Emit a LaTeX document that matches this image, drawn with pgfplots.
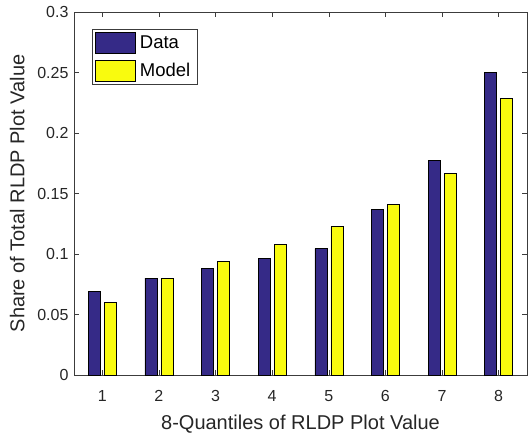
\documentclass[border=0pt]{standalone}
\usepackage{pgfplots}
\pgfplotsset{compat=1.18}
\usepackage{fontspec}
\setmainfont{Liberation Sans}
\definecolor{dblue}{RGB}{53,42,135}
\definecolor{myellow}{RGB}{249,251,14}
\definecolor{axgray}{RGB}{60,60,60}
\begin{document}
\begin{tikzpicture}
\begin{axis}[
  name=ax,
  scale only axis,
  width=453bp, height=363bp,
  xmin=0.5, xmax=8.5, ymin=0, ymax=0.3,
  ybar=4bp, bar width=12bp,
  xtick={1,2,3,4,5,6,7,8},
  ytick={0,0.05,0.1,0.15,0.2,0.25,0.3},
  tick align=inside,
  major tick length=5bp,
  axis line style={draw=axgray, line width=0.6bp},
  every tick/.style={draw=axgray, line width=0.6bp},
  tick label style={font=\fontsize{16bp}{19bp}\selectfont, text=black!85},
  /pgf/number format/assume math mode=true,
  yticklabel style={/pgf/number format/fixed, /pgf/number format/precision=2, xshift=-2bp},
  xticklabel style={yshift=-12bp},
  xlabel={8-Quantiles of RLDP Plot Value},
  ylabel={Share of Total RLDP Plot Value},
  label style={font=\fontsize{20bp}{23bp}\selectfont, text=black!85},
  xlabel style={yshift=-6bp},
  ylabel style={yshift=6bp},
  legend style={at={(axis description cs:0.04,0.953)}, anchor=north west,
    font=\fontsize{18.5bp}{21bp}\selectfont, draw=axgray, line width=0.6bp,
    inner xsep=3bp, inner ysep=3bp, row sep=6bp,
    nodes={inner xsep=4bp, inner ysep=2bp}},
  legend cell align=left,
  legend image code/.code={\draw[#1,draw=black,line width=0.5bp] (0bp,-10.5bp) rectangle (40bp,10.5bp);},
]
\addplot[fill=dblue, draw=black, line width=0.5bp] coordinates {
 (1,0.069) (2,0.080) (3,0.088) (4,0.0965) (5,0.1044) (6,0.1366) (7,0.1771) (8,0.250)};
\addplot[fill=myellow, draw=black, line width=0.5bp] coordinates {
 (1,0.060) (2,0.080) (3,0.0942) (4,0.1077) (5,0.1229) (6,0.1411) (7,0.1664) (8,0.2287)};
\legend{Data, Model}
\end{axis}
\pgfresetboundingbox
\path ([shift={(-74bp,-61bp)}]ax.south west) rectangle ([shift={(1bp,12bp)}]ax.north east);
\end{tikzpicture}
\end{document}
